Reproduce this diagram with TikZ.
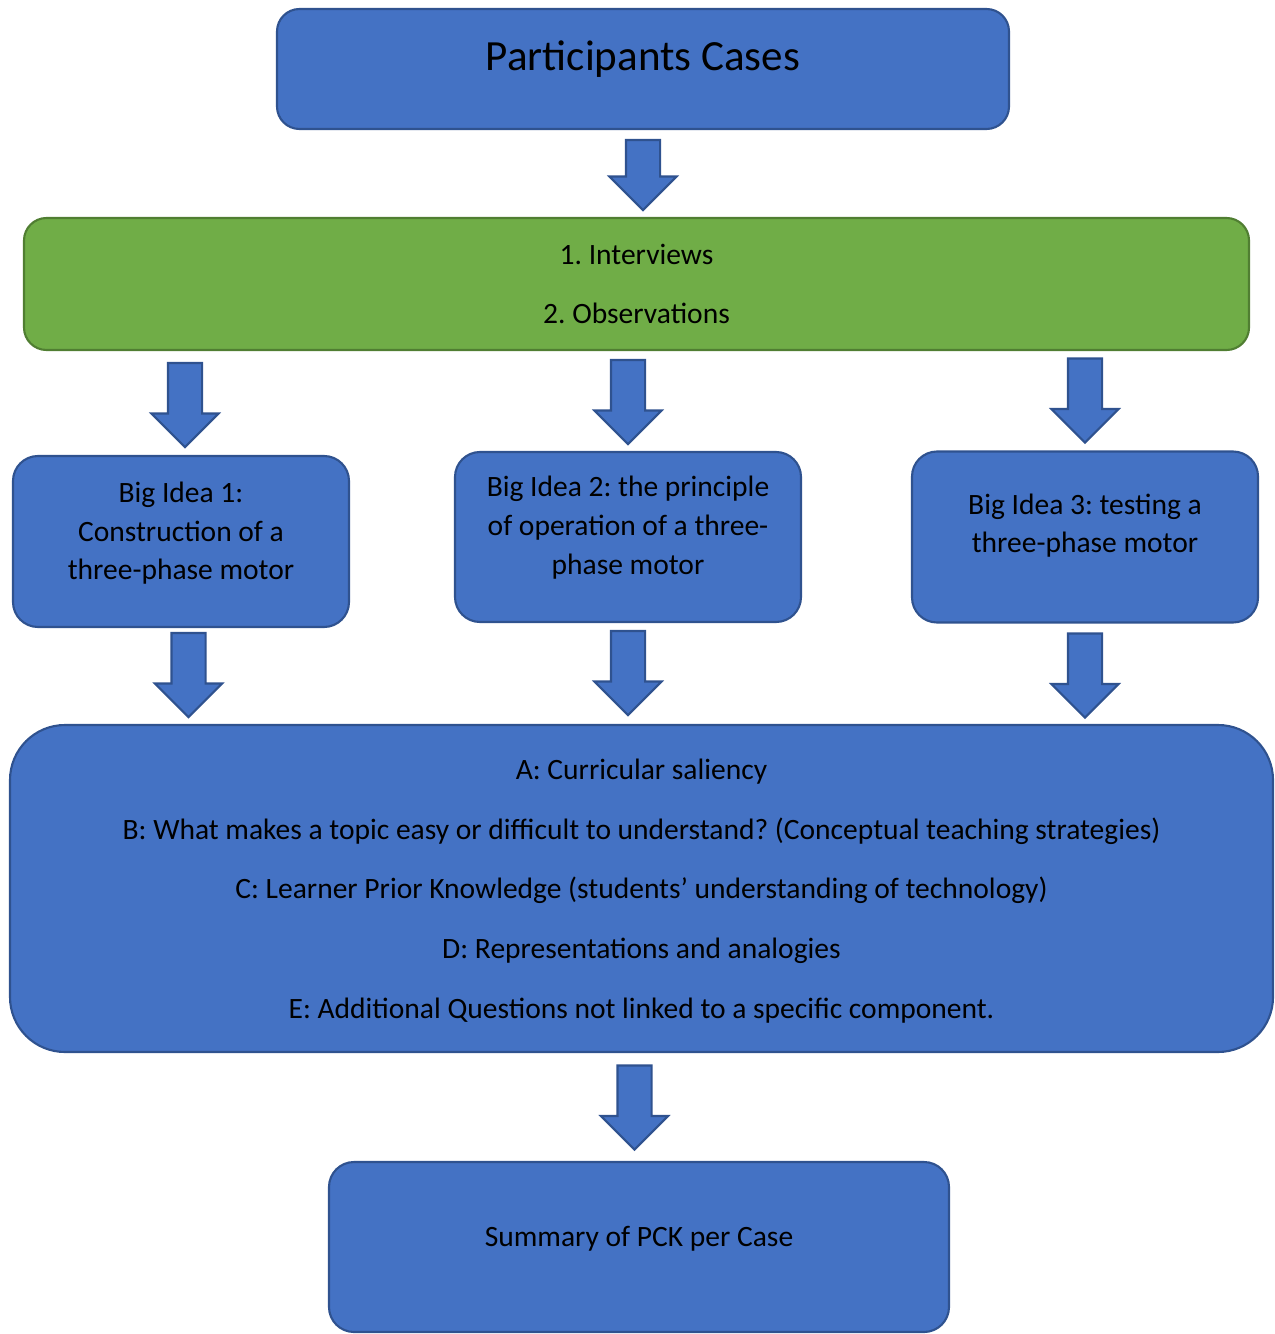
\documentclass[tikz,border=0pt]{standalone}
\usepackage{fontspec}
\setmainfont{Carlito}
\usetikzlibrary{positioning,shapes.arrows}
\definecolor{boxblue}{HTML}{4472C4}
\definecolor{edgeblue}{HTML}{2F528F}
\definecolor{boxgreen}{HTML}{70AD47}
\definecolor{edgegreen}{HTML}{507E32}
\frenchspacing
\begin{document}
\begin{tikzpicture}[node distance=0.2cm,on grid,
  box/.style={draw=edgeblue,fill=boxblue,line width=1.2pt,rounded corners=0.5cm,align=center,font=\fontsize{16.8}{22}\selectfont},
  listbox/.style={box,font=\fontsize{16.8}{34}\selectfont},
  downarrow/.style={single arrow,draw=edgeblue,fill=boxblue,line width=1.2pt,shape border rotate=270,
    minimum height=1.68cm,single arrow head extend=0.33cm,inner sep=0.32cm,yshift=0.17cm}]
\useasboundingbox (0,0) rectangle (25.5,-26.68);
\node[box,minimum width=14.64cm,minimum height=2.4cm,rounded corners=0.45cm,font=\fontsize{24.5}{28}\selectfont,text depth=15pt](cases) at (12.86,-1.38) {Participants Cases};
\node[downarrow,minimum height=1.4cm](a_cases)[below=2.12cm of cases]{};
\node[listbox,draw=edgegreen,fill=boxgreen,minimum width=24.5cm,minimum height=2.64cm,rounded corners=0.45cm](methods)[below=4.3cm of cases,xshift=-0.13cm]{1. Interviews\\2. Observations};
% big ideas
\node[box,minimum width=6.92cm,minimum height=3.4cm,text depth=13.5pt](idea_2)[below=5.06cm of methods,xshift=-0.17cm]{Big Idea 2: the principle\\of operation of a three-\\phase motor};
\node[box,minimum width=6.72cm,minimum height=3.42cm,text depth=12pt](idea_1)[left=8.94cm of idea_2,yshift=-0.09cm]{Big Idea 1:\\Construction of a\\three-phase motor};
\node[box,minimum width=6.92cm,minimum height=3.42cm,text depth=15.5pt](idea_3)[right=9.14cm of idea_2]{Big Idea 3: testing a\\three-phase motor};
\node[downarrow](a_in_1)[above=2.73cm of idea_1,xshift=0.08cm]{};
\node[downarrow](a_in_2)[above=2.7cm of idea_2]{};
\node[downarrow](a_in_3)[above=2.73cm of idea_3]{};
\node[downarrow](a_out_1)[below=2.67cm of idea_1,xshift=0.15cm]{};
\node[downarrow](a_out_2)[below=2.72cm of idea_2]{};
\node[downarrow](a_out_3)[below=2.77cm of idea_3]{};
% components
\node[listbox,minimum width=25.26cm,minimum height=6.54cm,rounded corners=1.1cm,text depth=0pt](parts)[below=7.03cm of idea_2,xshift=0.27cm]{A: Curricular saliency\\B: What makes a topic easy or difficult to understand? (Conceptual teaching strategies)\\C: Learner Prior Knowledge (students’ understanding of technology)\\D: Representations and analogies\\E: Additional Questions not linked to a specific component.};
\node[downarrow](a_parts)[below=4.38cm of parts,xshift=-0.14cm]{};
\node[box,minimum width=12.4cm,minimum height=3.4cm,text depth=12pt](summary)[below=7.17cm of parts,xshift=-0.05cm]{Summary of PCK per Case};
\end{tikzpicture}
\end{document}
